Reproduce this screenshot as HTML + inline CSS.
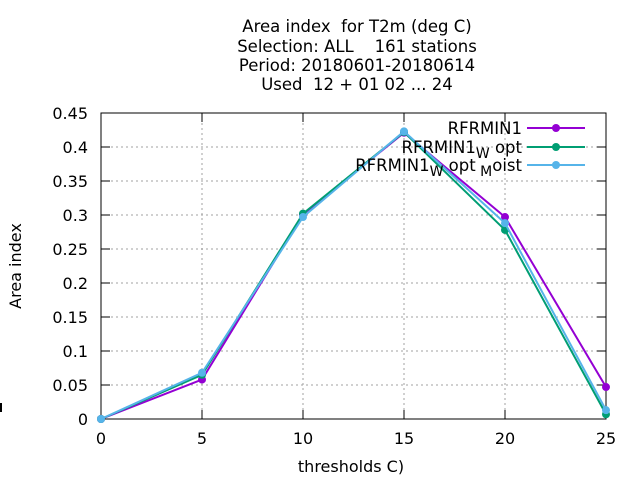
<!DOCTYPE html>
<html><head><meta charset="utf-8"><style>
html,body{margin:0;padding:0;background:#fff}
svg{display:block;font-family:"DejaVu Sans","Liberation Sans",sans-serif}
text{white-space:pre}
</style></head><body>
<svg id="chart" width="640" height="480" viewBox="0 0 640 480" xmlns="http://www.w3.org/2000/svg">
<g font-size="16.5" text-anchor="middle" fill="#000">
<text x="357" y="32" xml:space="preserve">Area index  for T2m (deg C)</text>
<text x="357" y="52" xml:space="preserve">Selection: ALL    161 stations</text>
<text x="357" y="71" xml:space="preserve">Period: 20180601-20180614</text>
<text x="357" y="90" xml:space="preserve">Used  12 + 01 02 ... 24</text>
</g>
<g id="grid"></g>
<g id="axes"></g>
<g id="series"></g>
<text x="21" y="266" font-size="16" text-anchor="middle" transform="rotate(-90 21 266)">Area index</text>
<text x="351" y="472" font-size="16" text-anchor="middle">thresholds C)</text>
<line x1="1" y1="403" x2="1" y2="412" stroke="#000" stroke-width="2"/>
<g font-size="16.5" text-anchor="end">
<text x="522" y="134">RFRMIN1</text>
<text x="522" y="153">RFRMIN1<tspan dy="5" font-size="14">W</tspan><tspan dy="-5"> opt</tspan></text>
<text x="522" y="171">RFRMIN1<tspan dy="5" font-size="14">W</tspan><tspan dy="-5"> opt</tspan><tspan dy="5" font-size="14"> M</tspan><tspan dy="-5">oist</tspan></text>
</g>
<g id="legendlines"></g>
</svg>
<script>
const xTicks=[0,5,10,15,20,25];
const yTicks=[0,0.05,0.1,0.15,0.2,0.25,0.3,0.35,0.4,0.45];
const yTickLabels=["0","0.05","0.1","0.15","0.2","0.25","0.3","0.35","0.4","0.45"];
const thresholds=[0,5,10,15,20,25];
const rfrmin1=[0,0.058,0.301,0.421,0.297,0.047];
const rfrmin1Wopt=[0,0.065,0.302,0.422,0.278,0.007];
const rfrmin1WoptMoist=[0,0.068,0.297,0.423,0.288,0.013];
const L=101,R=606,T=113,B=419;
const xs=v=>L+(v-0)/(25-0)*(R-L);
const ys=v=>B-(v/0.45)*(B-T);
const NS="http://www.w3.org/2000/svg";
function mk(tag,parent,attrs){const e=document.createElementNS(NS,tag);for(const k in attrs)e.setAttribute(k,attrs[k]);parent.appendChild(e);return e;}
const grid=document.getElementById('grid'),axes=document.getElementById('axes'),ser=document.getElementById('series'),ll=document.getElementById('legendlines');
xTicks.forEach((t,i)=>{
 if(i>0&&i<xTicks.length-1){const g=mk('line',grid,{x1:xs(t),x2:xs(t),y1:T,y2:B,stroke:'#a0a0a0','stroke-dasharray':'2,3'});
 }
 const tk=mk('line',axes,{x1:xs(t),x2:xs(t),y1:B,y2:B-9,stroke:'#000'});
 
 const tk2=mk('line',axes,{x1:xs(t),x2:xs(t),y1:T,y2:T+9,stroke:'#000'});
 
 const lb=mk('text',axes,{x:xs(t),y:444,'font-size':16,'text-anchor':'middle'});lb.textContent=String(t);
 
});
yTicks.forEach((t,i)=>{
 if(i>0&&i<yTicks.length-1){const g=mk('line',grid,{x1:L,x2:R,y1:ys(t),y2:ys(t),stroke:'#a0a0a0','stroke-dasharray':'2,3'});
 }
 const tk=mk('line',axes,{x1:L,x2:L+9,y1:ys(t),y2:ys(t),stroke:'#000'});
 
 const tk2=mk('line',axes,{x1:R,x2:R-9,y1:ys(t),y2:ys(t),stroke:'#000'});
 
 const lb=mk('text',axes,{x:88,y:ys(t)+6,'font-size':16,'text-anchor':'end'});lb.textContent=yTickLabels[i];
 
});
const fr=mk('rect',axes,{x:L,y:T,width:R-L,height:B-T,fill:'none',stroke:'#000'});

const series=[[rfrmin1,'#9400d3','rfrmin1',128],[rfrmin1Wopt,'#009e73','rfrmin1-w-opt',147],[rfrmin1WoptMoist,'#56b4e9','rfrmin1-w-opt-moist',165]];
series.forEach(([vals,col,name,ly])=>{
 const p=mk('polyline',ser,{points:vals.map((v,i)=>xs(thresholds[i])+','+ys(v)).join(' '),fill:'none',stroke:col,'stroke-width':2});
 
 vals.forEach((v,i)=>{const c=mk('circle',ser,{cx:xs(thresholds[i]),cy:ys(v),r:4,fill:col});
  });
 const l=mk('line',ll,{x1:527,x2:585,y1:ly,y2:ly,stroke:col,'stroke-width':2});
 
 const c=mk('circle',ll,{cx:556,cy:ly,r:4,fill:col});
 
});
</script>
</body></html>
